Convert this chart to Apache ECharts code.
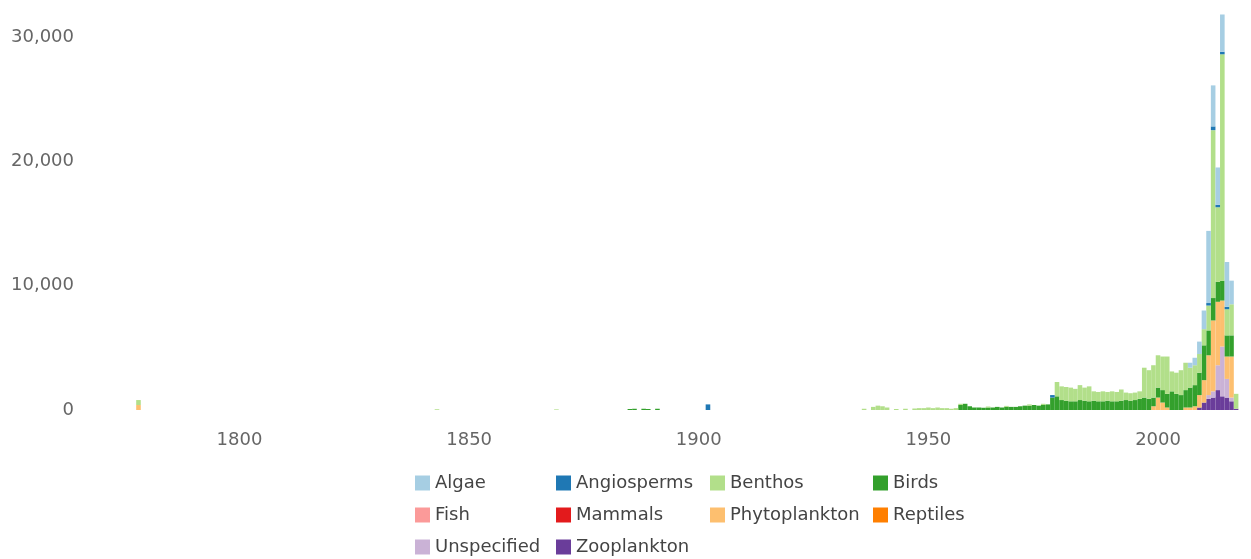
<!DOCTYPE html>
<html><head><meta charset="utf-8">
<script src="https://cdn.jsdelivr.net/npm/echarts@6/dist/echarts.min.js"></script>
<style>html,body{margin:0;padding:0;background:#fff}#c{width:1251px;height:559px}</style>
</head><body><div id="c"></div>
<script>
const firstYear = 1776, lastYear = 2018;
const tickYears = [1800, 1850, 1900, 1950, 2000];
const yTicks = [0, 10000, 20000, 30000];
const names = ['Algae','Angiosperms','Benthos','Birds','Fish','Mammals','Phytoplankton','Reptiles','Unspecified','Zooplankton'];
const colors = ['#a6cee3','#1f78b4','#b2df8a','#33a02c','#fb9a99','#e31a1c','#fdbf6f','#ff7f00','#cab2d6','#6a3d9a'];

const algae = [[2007,400],[2008,600],[2009,1000],[2010,1500],[2011,5800],[2012,3300],[2013,3000],[2014,3000],[2015,3600],[2016,1900]];
const angiosperms = [[1902,450],[1977,200],[2011,200],[2012,300],[2013,200],[2014,200],[2015,200]];
const benthos = [[1778,400],[1843,60],[1869,50],[1936,100],[1938,250],[1939,350],[1940,300],[1941,200],[1943,80],[1945,100],[1947,120],[1948,150],[1949,150],[1950,200],[1951,150],[1952,200],[1953,150],[1954,150],[1955,100],[1956,150],[1957,100],[1963,80],[1967,80],[1972,100],[1975,100],
  [1978,1150],[1979,1100],[1980,1100],[1981,1100],[1982,1000],[1983,1200],[1984,1050],[1985,1200],[1986,750],[1987,750],[1988,800],[1989,700],[1990,800],[1991,750],[1992,900],[1993,600],[1994,600],[1995,600],[1996,600],
  [1997,2400],[1998,2300],[1999,2600],[2000,2600],[2001,2700],[2002,3000],[2003,1600],[2004,1700],[2005,2000],[2006,2200],[2007,1600],[2008,1600],[2009,1500],[2010,1300],[2011,2000],[2012,13500],[2013,6000],[2014,18200],[2015,2100],[2016,2500],[2017,1200]];
const birds = [[1885,80],[1886,100],[1888,100],[1889,80],[1891,100],
  [1957,400],[1958,500],[1959,300],[1960,200],[1961,200],[1962,180],[1963,200],[1964,200],[1965,250],[1966,200],[1967,250],[1968,250],[1969,250],[1970,300],[1971,350],[1972,350],[1973,400],[1974,350],[1975,400],[1976,450],[1977,1000],[1978,1100],
  [1979,800],[1980,750],[1981,700],[1982,700],[1983,800],[1984,750],[1985,700],[1986,750],[1987,700],[1988,700],[1989,750],[1990,700],[1991,700],[1992,750],[1993,800],[1994,750],[1995,800],[1996,900],
  [1997,1000],[1998,900],[1999,700],[2000,800],[2001,1000],[2002,1100],[2003,1500],[2004,1300],[2005,1200],[2006,1400],[2007,1600],[2008,1700],[2009,1800],[2010,2800],[2011,2000],[2012,1800],[2013,1600],[2014,1600],[2015,1700],[2016,1700]];
const fish = [];
const mammals = [];
const phytoplankton = [[1778,400],[1999,300],[2000,1000],[2001,600],[2002,200],[2006,200],[2007,200],[2008,300],[2009,1000],[2010,1800],[2011,3200],[2012,5700],[2013,5100],[2014,3700],[2015,1800],[2016,3300]];
const reptiles = [];
const unspecified = [[2011,300],[2012,500],[2013,2000],[2014,4000],[2015,1500],[2016,300]];
const zooplankton = [[2009,200],[2010,600],[2011,900],[2012,1000],[2013,1600],[2014,1100],[2015,1000],[2016,700],[2017,100]];

const seriesData = {Algae: algae, Angiosperms: angiosperms, Benthos: benthos, Birds: birds, Fish: fish, Mammals: mammals,
  Phytoplankton: phytoplankton, Reptiles: reptiles, Unspecified: unspecified, Zooplankton: zooplankton};

const years = [];
for (let y = firstYear; y <= lastYear; y++) years.push(String(y));

function toCategoryData(pairs) {
  const arr = years.map(() => 0);
  pairs.forEach(([yr, v]) => { arr[yr - firstYear] = v; });
  return arr;
}

const series = names.slice().reverse().map(n => ({
  name: n, type: 'bar', stack: 'total',
  data: toCategoryData(seriesData[n]),
  itemStyle: { color: colors[names.indexOf(n)] },
  barCategoryGap: '0%',
  emphasis: { disabled: true }
}));

const font = 'DejaVu Sans';
const legendCols = [
  { left: 415, data: ['Algae', 'Fish', 'Unspecified'] },
  { left: 556, data: ['Angiosperms', 'Mammals', 'Zooplankton'] },
  { left: 710, data: ['Benthos', 'Phytoplankton'] },
  { left: 873, data: ['Birds', 'Reptiles'] }
];

const chart = echarts.init(document.getElementById('c'), null, { renderer: 'canvas' });
chart.setOption({
  animation: false,
  color: colors,
  grid: { left: 127, right: 8, top: 12, bottom: 149, containLabel: false },
  legend: legendCols.map(c => ({
    orient: 'vertical', left: c.left, top: 473, height: 120, width: 200, padding: 0, data: c.data,
    icon: 'rect', itemWidth: 15, itemHeight: 15, itemGap: 12, selectedMode: false,
    textStyle: { fontFamily: font, fontSize: 18, color: '#444', lineHeight: 20 }
  })),
  xAxis: {
    type: 'category', data: years,
    axisLine: { show: false }, axisTick: { show: false },
    axisLabel: {
      interval: (i, v) => tickYears.includes(Number(v)),
      margin: 21, fontFamily: font, fontSize: 18, color: '#666'
    }
  },
  yAxis: {
    type: 'value', min: 0, max: 32000, interval: 10000,
    axisLine: { show: false }, axisTick: { show: false }, splitLine: { show: false },
    axisLabel: {
      margin: 53, fontFamily: font, fontSize: 18, color: '#666',
      formatter: v => yTicks.includes(v) ? v.toLocaleString('en-US') : ''
    }
  },
  series: series
});
</script>
</body></html>
